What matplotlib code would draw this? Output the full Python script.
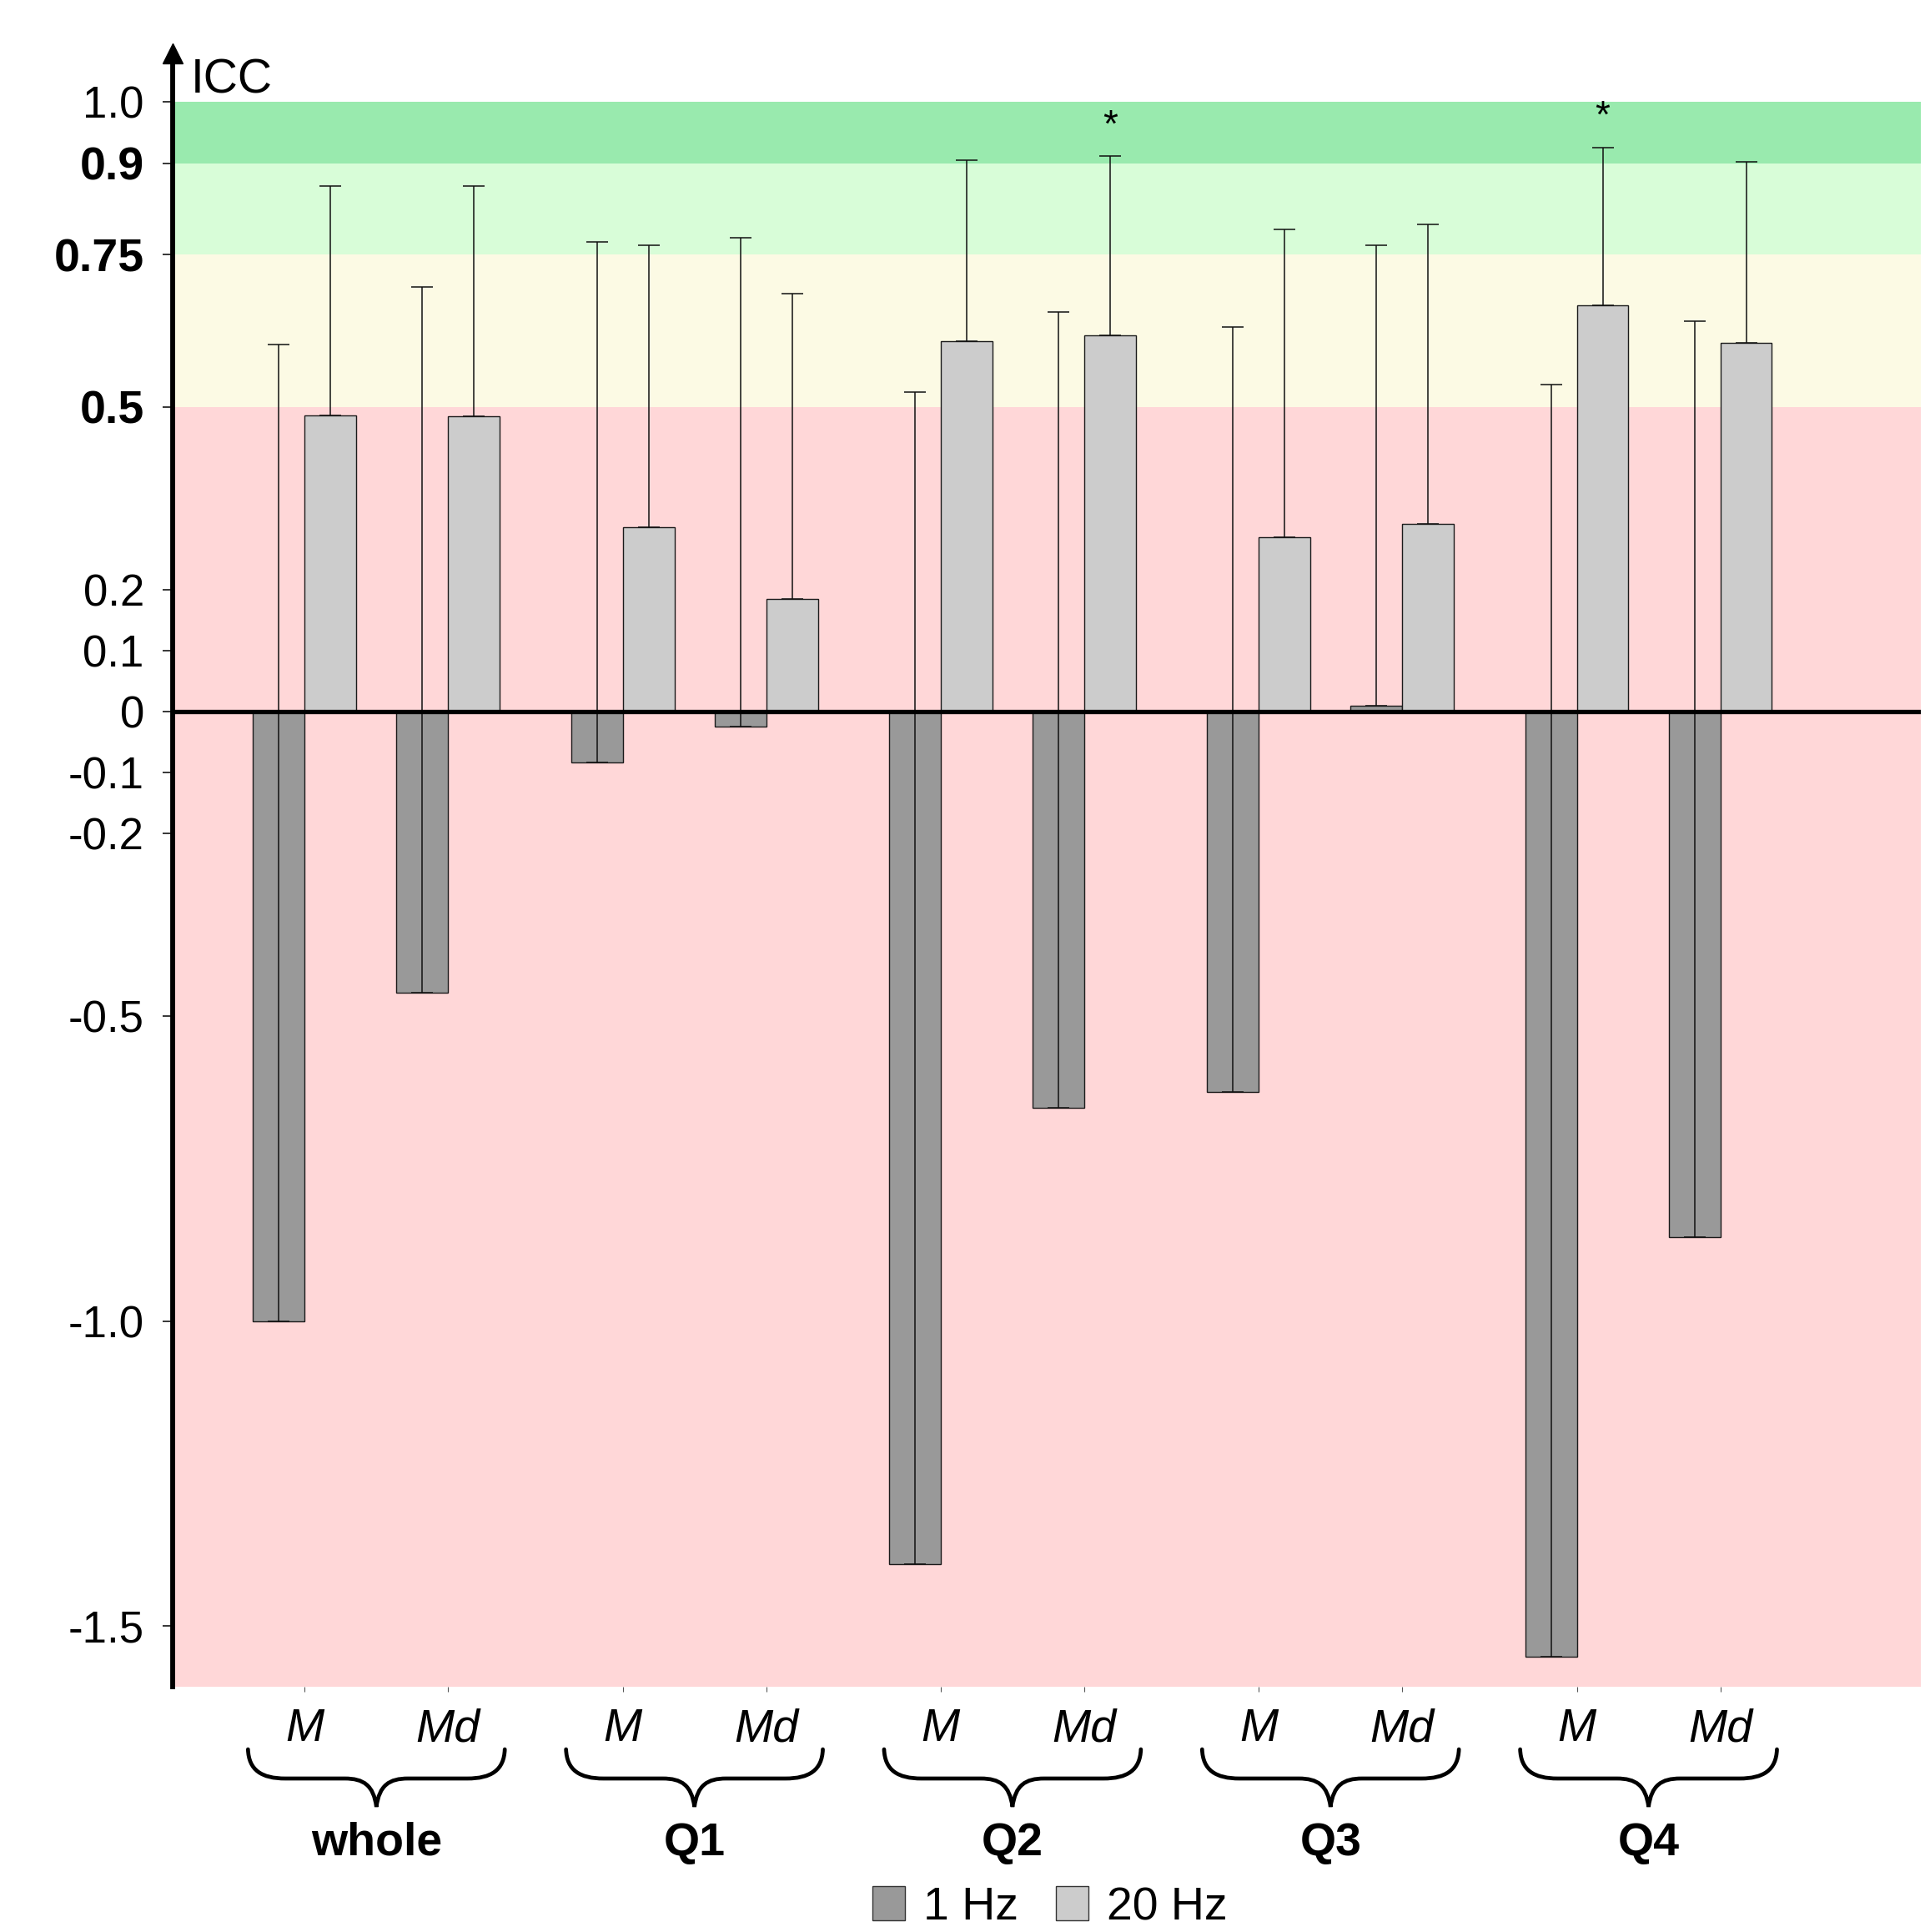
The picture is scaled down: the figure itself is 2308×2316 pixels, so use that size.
import numpy as np
import matplotlib.pyplot as plt
from matplotlib.patches import Patch, PathPatch
from matplotlib.path import Path
from matplotlib.transforms import blended_transform_factory

plt.rcParams['font.family'] = ['Liberation Sans', 'DejaVu Sans']

# data (order: whole M, whole Md, Q1 M, Q1 Md, ...)
groups = ['whole', 'Q1', 'Q2', 'Q3', 'Q4']
stats = ['M', 'Md']
icc_1hz = [-1.0, -0.461, -0.083, -0.024, -1.399, -0.650, -0.624, 0.010, -1.551, -0.862]
upper_1hz = [0.602, 0.697, 0.770, 0.778, 0.524, 0.656, 0.631, 0.765, 0.537, 0.640]
icc_20hz = [0.486, 0.484, 0.302, 0.185, 0.608, 0.618, 0.286, 0.308, 0.666, 0.605]
upper_20hz = [0.863, 0.863, 0.765, 0.686, 0.905, 0.912, 0.791, 0.799, 0.926, 0.902]
star_20hz = [0, 0, 0, 0, 0, 1, 0, 0, 1, 0]

# reliability bands
band_edges = [1.0, 0.9, 0.75, 0.5, -1.6]
band_colors = ['#99eaae', '#d8fdd8', '#fcfae4', '#ffd7d8']

yticks = [1.0, 0.9, 0.75, 0.5, 0.2, 0.1, 0, -0.1, -0.2, -0.5, -1.0, -1.5]
ytick_labels = ['1.0', '0.9', '0.75', '0.5', '0.2', '0.1', '0', '-0.1', '-0.2', '-0.5', '-1.0', '-1.5']
bold_ticks = ['0.9', '0.75', '0.5']

W, H = 2308, 2316
fig = plt.figure(figsize=(W / 100, H / 100), dpi=100)
ax = fig.add_axes([206.7 / W, (H - 2022) / H, (2303 - 206.7) / W, (2022 - 64) / H])


def fy(px):
    # figure pixel row -> figure fraction
    return (H - px) / H


step = 2.217
bw = 0.36
x = np.array([g * step + k for g in range(len(groups)) for k in range(len(stats))])

for top, bottom, c in zip(band_edges[:-1], band_edges[1:], band_colors):
    ax.axhspan(bottom, top, color=c, lw=0, zorder=0)

icc_1hz = np.array(icc_1hz)
icc_20hz = np.array(icc_20hz)
zeros = np.zeros(len(x))

ax.bar(x - bw / 2, icc_1hz, bw, color='#999999', edgecolor='#1a1a1a', lw=1.0, zorder=2)
ax.bar(x + bw / 2, icc_20hz, bw, color='#cccccc', edgecolor='#1a1a1a', lw=1.0, zorder=2)
ax.errorbar(x - bw / 2, icc_1hz, yerr=[zeros, np.array(upper_1hz) - icc_1hz], fmt='none',
            ecolor='#111111', elinewidth=1.1, capsize=9.5, capthick=1.1, zorder=3)
ax.errorbar(x + bw / 2, icc_20hz, yerr=[zeros, np.array(upper_20hz) - icc_20hz], fmt='none',
            ecolor='#111111', elinewidth=1.1, capsize=9.5, capthick=1.1, zorder=3)

for xi, up, s in zip(x, upper_20hz, star_20hz):
    if s:
        ax.text(xi + bw / 2, up + 0.032, '*', ha='center', va='baseline', fontsize=33, zorder=5)

ax.axhline(0, color='black', lw=3.8, zorder=4)

ax.set_xlim(-0.922, 11.266)
ax.set_ylim(-1.6, 1.08)

for s in ['top', 'right', 'bottom']:
    ax.spines[s].set_visible(False)
ax.spines['left'].set_linewidth(4.2)
ax.spines['left'].set_zorder(5)
ax.plot([0], [1], marker='^', ms=17, color='black', transform=ax.transAxes, clip_on=False, zorder=6)

ax.set_yticks(yticks, ytick_labels)
ax.tick_params(axis='y', length=8.4, width=1.1, pad=16, labelsize=38)
for lab in ax.get_yticklabels():
    if lab.get_text() in bold_ticks:
        lab.set_fontweight('bold')
        lab.set_fontsize(40)

ax.set_xticks(x, stats * len(groups))
ax.tick_params(axis='x', length=4, width=0.8, color='#555555', pad=14, labelsize=40)
for lab in ax.get_xticklabels():
    lab.set_fontstyle('italic')

fig.text(229 / W, fy(112), 'ICC', fontsize=41, va='baseline')

# curly braces under each pair + group names
trans = blended_transform_factory(ax.transData, fig.transFigure)
for g, name in enumerate(groups):
    c = g * step + 0.5
    pts = [(c - 0.895, 2097), (c - 0.89, 2122), (c - 0.80, 2132), (c - 0.634, 2132),
           (c - 0.221, 2132), (c - 0.09, 2132), (c - 0.02, 2140), (c, 2166),
           (c + 0.02, 2140), (c + 0.09, 2132), (c + 0.221, 2132),
           (c + 0.634, 2132), (c + 0.80, 2132), (c + 0.89, 2122), (c + 0.895, 2097)]
    codes = [Path.MOVETO, Path.CURVE4, Path.CURVE4, Path.CURVE4,
             Path.LINETO, Path.CURVE4, Path.CURVE4, Path.CURVE4,
             Path.CURVE4, Path.CURVE4, Path.CURVE4,
             Path.LINETO, Path.CURVE4, Path.CURVE4, Path.CURVE4]
    verts = [(px, fy(py)) for px, py in pts]
    ax.add_patch(PathPatch(Path(verts, codes), fill=False, lw=3.4, color='black',
                           transform=trans, clip_on=False, capstyle='round'))
    ax.text(c, fy(2224), name, transform=trans, ha='center', va='baseline',
            fontsize=40, fontweight='bold')

handles = [Patch(facecolor='#999999', edgecolor='#333333', lw=1, label='1 Hz'),
           Patch(facecolor='#cccccc', edgecolor='#333333', lw=1, label='20 Hz')]
fig.legend(handles=handles, loc='center', bbox_to_anchor=(1259 / W, fy(2287)), ncol=2,
           frameon=False, fontsize=40, handlelength=0.7, handleheight=0.75,
           handletextpad=0.4, columnspacing=0.8, borderpad=0)

fig.savefig('out.png', dpi=100)
